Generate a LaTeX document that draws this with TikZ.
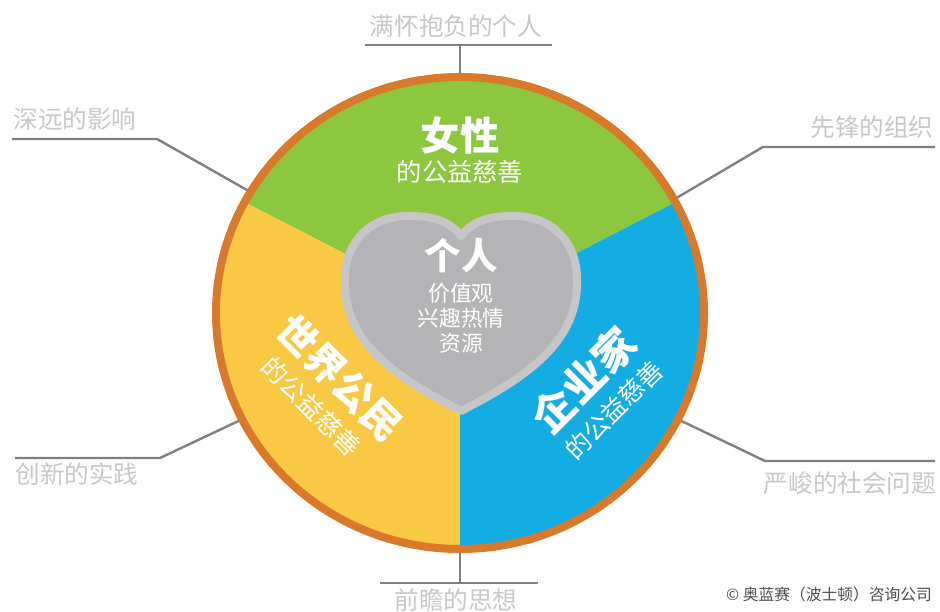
\documentclass[tikz,border=0pt]{standalone}
\usepackage{fontspec}
\setmainfont{Noto Sans CJK SC}
\usetikzlibrary{shapes.geometric,calc}
\definecolor{ringorange}{HTML}{D8792C}
\definecolor{sectgreen}{HTML}{8DC63F}
\definecolor{sectyellow}{HTML}{F9C844}
\definecolor{sectblue}{HTML}{14ADE3}
\definecolor{heartfill}{HTML}{B4B4B6}
\definecolor{heartedge}{HTML}{C6C6C8}
\definecolor{labelgray}{HTML}{C8C8C8}
\definecolor{conngray}{HTML}{808080}
\tikzstyle{ring} = [ellipse,draw=ringorange,line width=2mm,minimum width=122mm,minimum height=118mm,inner sep=0pt]
\tikzstyle{sector text} = [text=white,align=center,inner sep=0pt,font=\fontsize{18}{22.5}\selectfont]
\newcommand{\sectortitle}[1]{{\bfseries\fontsize{28}{30}\selectfont #1}}
\tikzstyle{out label} = [text=labelgray,font=\fontsize{17.5}{20}\selectfont]
\tikzstyle{conn} = [draw=conngray,line width=0.6mm]

\begin{document}
\begin{tikzpicture}[x=0.25mm,y=0.25mm]
        \useasboundingbox (0,0) rectangle (940,612);
        \coordinate (c) at (460,299);
        % draw sectors
        \fill[sectgreen] (c) -- ++(28:61mm and 59mm) arc[start angle=28,end angle=152,x radius=61mm,y radius=59mm] -- cycle;
        \fill[sectyellow] (c) -- ++(152:61mm and 59mm) arc[start angle=152,end angle=270,x radius=61mm,y radius=59mm] -- cycle;
        \fill[sectblue] (c) -- ++(270:61mm and 59mm) arc[start angle=270,end angle=388,x radius=61mm,y radius=59mm] -- cycle;
        % draw ring
        \node[ring] (ring) at (c) {};
        % draw heart
        \draw[fill=heartfill,draw=heartedge,line width=2mm,line join=round]
        (461,376) .. controls (448,393) and (430,396) .. (408,396)
        .. controls (370,396) and (345,370) .. (345,333)
        .. controls (343,270) and (395,235) .. (461,201)
        .. controls (527,235) and (579,270) .. (577,333)
        .. controls (577,370) and (552,396) .. (514,396)
        .. controls (492,396) and (474,393) .. (461,376) -- cycle;
        % texts in the circle
        \node[sector text] (women) at (460,462) {\sectortitle{女性}\\的公益慈善};
        \node[text=white,font=\bfseries\fontsize{26}{28}\selectfont] (self) at (461,356) {个人};
        \node[text=white,align=center,font=\fontsize{15.5}{17.8}\selectfont] (selfsub) at (461,294) {价值观\\兴趣热情\\资源};
        \node[sector text,rotate=-45] (citizen) at (328,222) {\sectortitle{世界公民}\\[3pt]的公益慈善};
        \node[sector text,rotate=45] (entre) at (596,220) {{\bfseries\fontsize{30}{32}\selectfont 企业家}\\[3pt]的公益慈善};
        % outer labels
        \node[out label] (lbltop) at (456,586) {满怀抱负的个人};
        \node[out label] (lbltl) at (75,493) {深远的影响};
        \node[out label] (lbltr) at (872,485) {先锋的组织};
        \node[out label] (lblbl) at (77,138) {创新的实践};
        \node[out label] (lblbr) at (850,129) {严峻的社会问题};
        \node[out label] (lblbot) at (456,12) {前瞻的思想};
        \node[text=black!70,font=\fontsize{11.2}{13}\selectfont] (copy) at (829,17) {© 奥蓝赛（波士顿）咨询公司};
        % connectors
        \coordinate (ta) at (365,567);
        \coordinate (tb) at (552,567);
        \coordinate (tla) at (12,473);
        \coordinate (tlb) at (157,473);
        \coordinate (tra) at (935,465);
        \coordinate (trb) at (763,465);
        \coordinate (bla) at (15,154);
        \coordinate (blb) at (160,154);
        \coordinate (bra) at (935,151);
        \coordinate (brb) at (765,151);
        \coordinate (ba) at (380,29);
        \coordinate (bb) at (538,29);
        \draw[conn] (ta) -- (tb);
        \draw[conn] (ring.north) -- (ring.north |- ta);
        \draw[conn] (tla) -- (tlb) -- (ring.150);
        \draw[conn] (tra) -- (trb) -- (ring.28);
        \draw[conn] (bla) -- (blb) -- (ring.206);
        \draw[conn] (bra) -- (brb) -- (ring.334);
        \draw[conn] (ba) -- (bb);
        \draw[conn] (ring.south) -- (ring.south |- ba);
\end{tikzpicture}
\end{document}
